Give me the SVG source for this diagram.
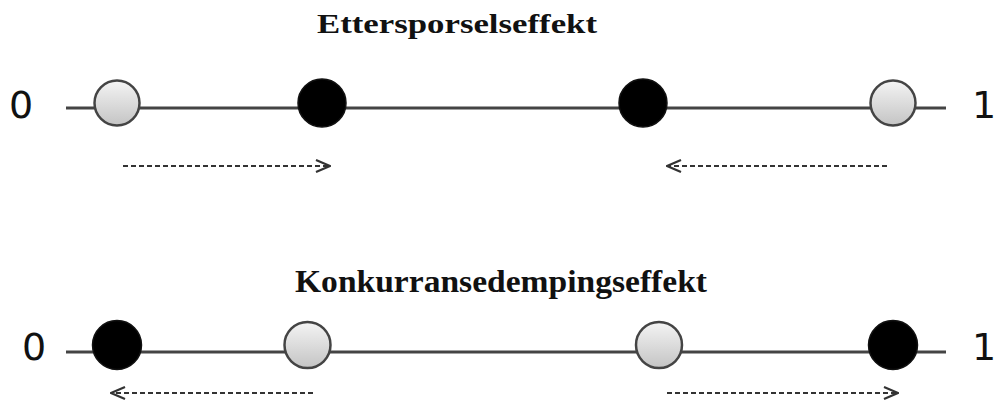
<svg xmlns="http://www.w3.org/2000/svg" width="997" height="406" viewBox="0 0 997 406">
<defs>
<linearGradient id="gray" x1="0" y1="0" x2="0" y2="1">
<stop offset="0" stop-color="#f4f4f4"/>
<stop offset="1" stop-color="#c4c4c4"/>
</linearGradient>
<marker id="chev" markerUnits="userSpaceOnUse" viewBox="0 0 16 14" refX="15" refY="7" markerWidth="16" markerHeight="14" orient="auto">
<path d="M1,1 L15,7 L1,13" fill="none" stroke="#333" stroke-width="2.2"/>
</marker>
</defs>
<style>
.title{font-family:"Liberation Serif","Times New Roman",serif;font-weight:bold;fill:#111}
.num{font-family:"DejaVu Sans",sans-serif;font-size:38px;fill:#111}
.axis{stroke:#444;stroke-width:3}
.g{fill:url(#gray);stroke:#444;stroke-width:2.5}
.b{fill:#000;stroke:#111;stroke-width:1.5}
.arr{stroke:#333;stroke-width:1.8;stroke-dasharray:5 3;fill:none;marker-end:url(#chev)}
</style>
<rect width="997" height="406" fill="#fff"/>
<text class="title" x="317" y="33" font-size="28" textLength="280" lengthAdjust="spacingAndGlyphs">Ettersporselseffekt</text>
<text class="title" x="295" y="292" font-size="31" textLength="412" lengthAdjust="spacingAndGlyphs">Konkurransedempingseffekt</text>
<g id="axis-top">
<text class="num" x="9" y="118">0</text>
<line class="axis" x1="66" y1="108" x2="946" y2="108"/>
<text class="num" x="972" y="118">1</text>
</g>
<g id="axis-bottom">
<text class="num" x="22" y="360">0</text>
<line class="axis" x1="66" y1="352" x2="946" y2="352"/>
<text class="num" x="972" y="360">1</text>
</g>
<g id="t-gray-left"><circle class="g" cx="117" cy="103" r="22.5"/></g>
<g id="t-black-left"><circle class="b" cx="322" cy="103" r="24"/></g>
<g id="t-black-right"><circle class="b" cx="643" cy="103" r="24"/></g>
<g id="t-gray-right"><circle class="g" cx="893" cy="103" r="22.5"/></g>
<g id="b-black-left"><circle class="b" cx="117" cy="345" r="24.5"/></g>
<g id="b-gray-left"><circle class="g" cx="307.5" cy="345" r="23"/></g>
<g id="b-gray-right"><circle class="g" cx="659" cy="345" r="23"/></g>
<g id="b-black-right"><circle class="b" cx="893" cy="345" r="24.5"/></g>
<g id="connectors">
<line class="arr" x1="123" y1="166" x2="330" y2="166"/>
<line class="arr" x1="887" y1="166" x2="667" y2="166"/>
<line class="arr" x1="313" y1="393" x2="111" y2="393"/>
<line class="arr" x1="667" y1="393" x2="898" y2="393"/>
</g>
</svg>
